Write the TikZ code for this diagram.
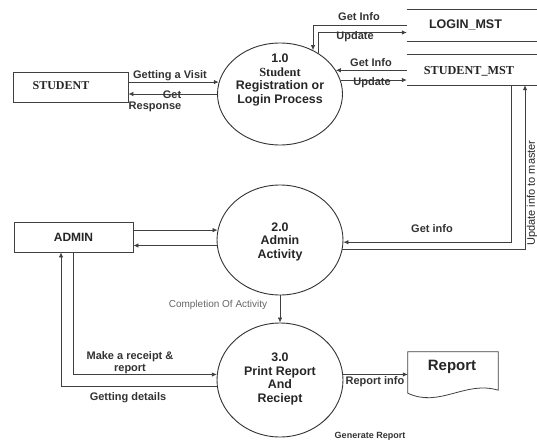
\documentclass[tikz,border=0pt]{standalone}
\usepackage{fontspec}
\setmainfont{Liberation Serif}
\setsansfont{Liberation Sans}
\usetikzlibrary{shapes.geometric,arrows.meta}
\begin{document}
\begin{tikzpicture}[x=1pt,y=-1pt,
  ln/.style={draw=black!75, line width=0.8pt},
  arr/.style={ln, -{Latex[length=5pt,width=4.5pt]}},
  proc/.style={ellipse, draw=black!80, line width=0.9pt, inner sep=0pt},
  ent/.style={rectangle, draw=black!75, line width=0.8pt, inner sep=0pt},
  lbl/.style={font=\sffamily\bfseries\fontsize{11}{11.5}\selectfont, text=black!80, inner sep=0pt, align=center},
  ptxt/.style={font=\sffamily\bfseries\fontsize{12.4}{13.5}\selectfont, text=black!85, align=center, inner sep=0pt},
  stxt/.style={text=black!85, inner sep=0pt},
]
\useasboundingbox (0,0) rectangle (537,441);
\fill[white] (0,0) rectangle (537,441);

% processes
\node[proc, minimum width=125pt, minimum height=102pt] (c1) at (280,94) {};
\node[proc, minimum width=126pt, minimum height=110pt] (c2) at (280,240) {};
\node[proc, minimum width=126pt, minimum height=114pt] (c3) at (280,380) {};
\node[ptxt] (t1) at (280,80) {1.0\\{\rmfamily Student}\\Registration or\\Login Process};
\node[ptxt] (t2) at (280,241.5) {2.0\\Admin\\Activity};
\node[ptxt] (t3) at (280,379) {3.0\\Print Report\\And\\Reciept};

% entities
\node[ent, minimum width=115pt, minimum height=30pt] (st) at (70.5,87) {};
\node[stxt, font=\rmfamily\bfseries\fontsize{12}{13}\selectfont] (stt) at (61,85.5) {STUDENT};
\node[ent, minimum width=119pt, minimum height=30pt, font=\sffamily\bfseries\fontsize{12}{13}\selectfont, text=black!85] (ad) at (73.5,237) {ADMIN};

% data stores
\node[minimum width=130pt, minimum height=31pt, inner sep=0pt] (lm) at (472,25.5) {};
\draw[ln] (lm.north west) -- (lm.north east) (lm.south west) -- (lm.south east);
\node[stxt, font=\sffamily\bfseries\fontsize{12.5}{13}\selectfont] (lmt) at (465.5,25) {LOGIN\_MST};
\node[minimum width=130pt, minimum height=30pt, inner sep=0pt] (sm) at (472,70) {};
\draw[ln] (sm.north west) -- (sm.north east) (sm.south west) -- (sm.south east);
\node[stxt, font=\rmfamily\bfseries\fontsize{12.2}{13}\selectfont] (smt) at (469,71) {STUDENT\_MST};

% report document
\node[minimum width=90pt, minimum height=40pt, inner sep=0pt] (rp) at (453,372) {};
\draw[ln] ([yshift=-1pt]rp.south west) -- (rp.north west) -- (rp.north east) -- ([yshift=2pt]rp.south east)
  .. controls ([xshift=-33pt,yshift=12pt]rp.south east) and ([xshift=32pt,yshift=-16pt]rp.south west) .. ([yshift=-1pt]rp.south west) -- cycle;
\node[stxt, font=\sffamily\bfseries\fontsize{15}{16}\selectfont] (rpt) at (452,367) {Report};

% connectors
\draw[arr] (st.east |- c1.169) -- (c1.169);
\draw[arr] (c1.180) -- (st.east |- c1.180);
\draw[arr] (lm.west) -| (c1.53);
\draw[arr] (c1.47) |- ([yshift=-7pt]lm.west);
\draw[arr] (sm.west |- c1.23) -- (c1.23);
\draw[arr] (c1.13) -- (sm.west |- c1.13);
\draw[arr] (ad.east |- c2.171) -- (c2.171);
\draw[arr] (c2.185) -- (ad.east |- c2.185);
\draw[arr] ([xshift=39pt]sm.south) |- (c2.358);
\draw[arr] (c2.351) -| ([xshift=53pt]sm.south);
\draw[arr] (c2.south) -- (c3.north);
\draw[arr] ([xshift=-0.5pt]ad.south) |- (c3.175);
\draw[arr] (c3.186) -| ([xshift=-12.5pt]ad.south);
\draw[arr] (c3.5) -- (rp.west |- c3.5);

% labels
\node[lbl] (l1) at (170,76) {Getting a Visit};
\node[lbl] (l2) at (172,95) {Get};
\node[lbl] (l3) at (155,107) {Response};
\node[lbl] (l4) at (359,17) {Get Info};
\node[lbl] (l5) at (355,37) {Update};
\node[lbl] (l6) at (371,63) {Get Info};
\node[lbl] (l7) at (372,83) {Update};
\node[lbl] (l8) at (432,229) {Get info};
\node[stxt, font=\sffamily\fontsize{11}{12}\selectfont, rotate=90] (l9) at (532,193) {Update info to master};
\node[stxt, font=\sffamily\fontsize{10}{11}\selectfont, text=black!60] (l10) at (218,305) {Completion Of Activity};
\node[lbl] (l11) at (130,362.5) {Make a receipt \&\\report};
\node[lbl] (l12) at (128,398) {Getting details};
\node[lbl] (l13) at (375,382) {Report info};
\node[lbl, font=\sffamily\bfseries\fontsize{9}{10}\selectfont] (l14) at (370,436) {Generate Report};
\end{tikzpicture}
\end{document}
